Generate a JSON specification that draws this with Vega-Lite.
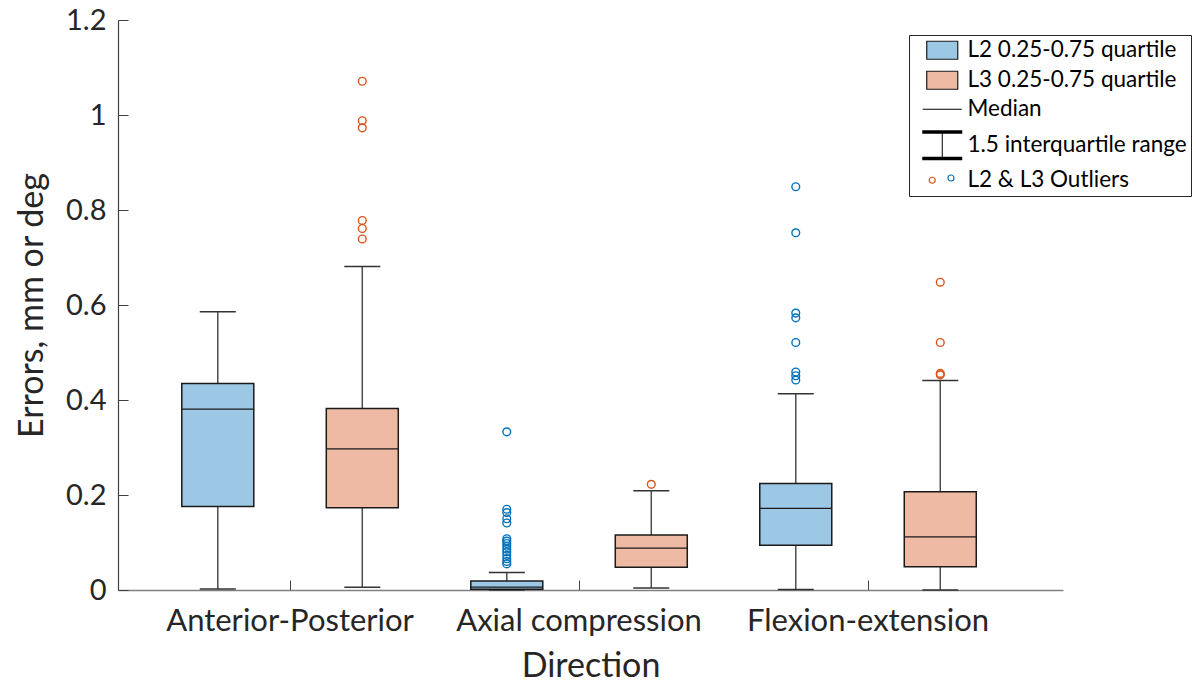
{
  "$schema": "https://vega.github.io/schema/vega-lite/v6.json",
  "width": 945,
  "height": 570,
  "autosize": {"type": "none"},
  "padding": {"left": 118, "top": 20, "right": 133, "bottom": 92},
  "background": "white",
  "config": {
    "view": {"stroke": null},
    "font": "Lato",
    "axis": {"labelFont": "Lato", "titleFont": "Lato", "labelColor": "#262626", "titleColor": "#262626", "titleFontWeight": "normal", "grid": false}
  },
  "datasets": {
    "boxes": [
      {"dir": "Anterior-Posterior", "lvl": "L2", "lo": 0.002, "q1": 0.176, "med": 0.381, "q3": 0.435, "hi": 0.586},
      {"dir": "Anterior-Posterior", "lvl": "L3", "lo": 0.006, "q1": 0.173, "med": 0.297, "q3": 0.382, "hi": 0.681},
      {"dir": "Axial compression", "lvl": "L2", "lo": 0.0, "q1": 0.0015, "med": 0.006, "q3": 0.019, "hi": 0.037},
      {"dir": "Axial compression", "lvl": "L3", "lo": 0.004, "q1": 0.048, "med": 0.088, "q3": 0.116, "hi": 0.209},
      {"dir": "Flexion-extension", "lvl": "L2", "lo": 0.001, "q1": 0.094, "med": 0.172, "q3": 0.224, "hi": 0.413},
      {"dir": "Flexion-extension", "lvl": "L3", "lo": 0.0, "q1": 0.049, "med": 0.112, "q3": 0.207, "hi": 0.441}
    ],
    "outliers": [
      {"dir": "Anterior-Posterior", "lvl": "L3", "v": 1.071},
      {"dir": "Anterior-Posterior", "lvl": "L3", "v": 0.988},
      {"dir": "Anterior-Posterior", "lvl": "L3", "v": 0.973},
      {"dir": "Anterior-Posterior", "lvl": "L3", "v": 0.778},
      {"dir": "Anterior-Posterior", "lvl": "L3", "v": 0.761},
      {"dir": "Anterior-Posterior", "lvl": "L3", "v": 0.739},
      {"dir": "Axial compression", "lvl": "L2", "v": 0.333},
      {"dir": "Axial compression", "lvl": "L2", "v": 0.170},
      {"dir": "Axial compression", "lvl": "L2", "v": 0.163},
      {"dir": "Axial compression", "lvl": "L2", "v": 0.150},
      {"dir": "Axial compression", "lvl": "L2", "v": 0.141},
      {"dir": "Axial compression", "lvl": "L2", "v": 0.108},
      {"dir": "Axial compression", "lvl": "L2", "v": 0.103},
      {"dir": "Axial compression", "lvl": "L2", "v": 0.098},
      {"dir": "Axial compression", "lvl": "L2", "v": 0.092},
      {"dir": "Axial compression", "lvl": "L2", "v": 0.086},
      {"dir": "Axial compression", "lvl": "L2", "v": 0.080},
      {"dir": "Axial compression", "lvl": "L2", "v": 0.073},
      {"dir": "Axial compression", "lvl": "L2", "v": 0.066},
      {"dir": "Axial compression", "lvl": "L2", "v": 0.060},
      {"dir": "Axial compression", "lvl": "L2", "v": 0.055},
      {"dir": "Axial compression", "lvl": "L3", "v": 0.2225},
      {"dir": "Flexion-extension", "lvl": "L2", "v": 0.849},
      {"dir": "Flexion-extension", "lvl": "L2", "v": 0.752},
      {"dir": "Flexion-extension", "lvl": "L2", "v": 0.583},
      {"dir": "Flexion-extension", "lvl": "L2", "v": 0.573},
      {"dir": "Flexion-extension", "lvl": "L2", "v": 0.521},
      {"dir": "Flexion-extension", "lvl": "L2", "v": 0.459},
      {"dir": "Flexion-extension", "lvl": "L2", "v": 0.451},
      {"dir": "Flexion-extension", "lvl": "L2", "v": 0.442},
      {"dir": "Flexion-extension", "lvl": "L3", "v": 0.648},
      {"dir": "Flexion-extension", "lvl": "L3", "v": 0.521},
      {"dir": "Flexion-extension", "lvl": "L3", "v": 0.456},
      {"dir": "Flexion-extension", "lvl": "L3", "v": 0.453}
    ],
    "legendA": [
      {"item": "L2 0.25-0.75 quartile", "v": null},
      {"item": "L3 0.25-0.75 quartile", "v": null},
      {"item": "Median", "v": null},
      {"item": "1.5 interquartile range", "v": null},
      {"item": "L2 & L3 Outliers", "v": null}
    ],
    "legendB": [
      {"item2": "o", "v": null}
    ]
  },
  "encoding": {
    "x": {
      "field": "dir", "type": "nominal",
      "scale": {"domain": ["Anterior-Posterior", "Axial compression", "Flexion-extension"], "paddingInner": 0, "paddingOuter": 0.135, "align": 0.353},
      "axis": {"title": "Direction", "labelAngle": 0, "labelLimit": 0, "tickSize": -10, "labelPadding": 26, "labelFontSize": 31, "titleFontSize": 34, "titlePadding": 13, "domainColor": "#808080", "domainWidth": 1.5, "tickColor": "#404040", "tickWidth": 1}
    },
    "xOffset": {"field": "lvl", "type": "nominal", "scale": {"domain": ["L2", "L3"], "paddingInner": 0, "paddingOuter": 0}}
  },
  "layer": [
    {
      "data": {"name": "boxes"},
      "mark": {"type": "rule", "color": "#4d4d4d", "strokeWidth": 1.5},
      "encoding": {
        "y": {"field": "lo", "type": "quantitative", "scale": {"domain": [0, 1.2], "nice": false, "zero": false},
          "axis": {"title": "Errors, mm or deg", "values": [0, 0.2, 0.4, 0.6, 0.8, 1, 1.2], "format": "~g", "tickSize": -10, "labelPadding": 22, "labelFontSize": 29, "titleFontSize": 34, "titlePadding": 16, "domainColor": "#404040", "domainWidth": 1.2, "tickColor": "#404040"}},
        "y2": {"field": "hi"}
      }
    },
    {
      "data": {"name": "boxes"},
      "mark": {"type": "tick", "color": "#333333", "size": 36, "thickness": 1.5, "opacity": 1},
      "encoding": {"y": {"field": "lo", "type": "quantitative"}}
    },
    {
      "data": {"name": "boxes"},
      "mark": {"type": "tick", "color": "#333333", "size": 36, "thickness": 1.5, "opacity": 1},
      "encoding": {"y": {"field": "hi", "type": "quantitative"}}
    },
    {
      "data": {"name": "boxes"},
      "mark": {"type": "bar", "width": 72, "stroke": "#1a1a1a", "strokeWidth": 1.5},
      "encoding": {
        "y": {"field": "q1", "type": "quantitative"},
        "y2": {"field": "q3"},
        "fill": {"field": "lvl", "type": "nominal", "scale": {"domain": ["L2", "L3"], "range": ["#9cc8e6", "#eebaa3"]}, "legend": null}
      }
    },
    {
      "data": {"name": "boxes"},
      "mark": {"type": "tick", "color": "#1a1a1a", "size": 72, "thickness": 1.3, "opacity": 1},
      "encoding": {"y": {"field": "med", "type": "quantitative"}}
    },
    {
      "data": {"name": "outliers"},
      "mark": {"type": "point", "shape": "circle", "filled": false, "size": 60, "strokeWidth": 1.4, "opacity": 1},
      "encoding": {
        "y": {"field": "v", "type": "quantitative"},
        "stroke": {"field": "lvl", "type": "nominal", "scale": {"domain": ["L2", "L3"], "range": ["#0072BD", "#D95319"]}, "legend": null}
      }
    },
    {
      "data": {"name": "legendA"},
      "mark": {"type": "point", "filled": true, "opacity": 1, "strokeWidth": 1.2},
      "encoding": {
        "y": {"field": "v", "type": "quantitative"},
        "shape": {"field": "item", "type": "nominal",
          "scale": {"domain": ["L2 0.25-0.75 quartile", "L3 0.25-0.75 quartile", "Median", "1.5 interquartile range", "L2 & L3 Outliers"],
            "range": ["M-1.55,-0.9H1.55V0.9H-1.55Z", "M-1.55,-0.9H1.55V0.9H-1.55Z", "M-1.95,-0.06H1.95V0.06H-1.95Z", "M-2.0,-1.5H2.0V-1.15H-2.0Z M-2.0,1.15H2.0V1.5H-2.0Z M-0.05,-1.15H0.05V1.15H-0.05Z", "M-1.3,0A0.3,0.3 0 1,0 -0.7,0A0.3,0.3 0 1,0 -1.3,0Z"]},
          "legend": {"orient": "none", "legendX": 791, "legendY": 15, "title": null, "strokeColor": "#262626", "fillColor": "white", "padding": 4, "symbolSize": 400, "symbolOffset": 18, "labelOffset": 14, "labelFont": "Lato", "labelFontSize": 22.5, "labelColor": "#000000", "rowPadding": 6, "symbolStrokeWidth": 1.2, "symbolOpacity": 1, "labelLimit": 400}},
        "fill": {"field": "item", "type": "nominal",
          "scale": {"domain": ["L2 0.25-0.75 quartile", "L3 0.25-0.75 quartile", "Median", "1.5 interquartile range", "L2 & L3 Outliers"],
            "range": ["#9cc8e6", "#eebaa3", "#000000", "#000000", "transparent"]}},
        "stroke": {"field": "item", "type": "nominal",
          "scale": {"domain": ["L2 0.25-0.75 quartile", "L3 0.25-0.75 quartile", "Median", "1.5 interquartile range", "L2 & L3 Outliers"],
            "range": ["#1a1a1a", "#1a1a1a", "transparent", "transparent", "#D95319"]}}
      }
    },
    {
      "data": {"name": "legendB"},
      "mark": {"type": "point", "filled": false, "opacity": 1, "strokeWidth": 1.2, "stroke": "#0072BD"},
      "encoding": {
        "y": {"field": "v", "type": "quantitative"},
        "shape": {"field": "item2", "type": "nominal",
          "scale": {"domain": ["o"], "range": ["M0.6,0A0.3,0.3 0 1,0 1.2,0A0.3,0.3 0 1,0 0.6,0Z"]},
          "legend": {"orient": "none", "legendX": 791, "legendY": 143, "title": null, "padding": 4, "symbolSize": 400, "symbolOffset": 18, "labelOffset": 14, "labelFontSize": 20, "labelExpr": "''", "symbolStrokeColor": "#0072BD", "symbolFillColor": "transparent", "symbolStrokeWidth": 1.2, "symbolOpacity": 1}}
      }
    }
  ],
  "resolve": {
    "scale": {"fill": "independent", "stroke": "independent", "shape": "independent"},
    "legend": {"fill": "independent", "stroke": "independent", "shape": "independent"}
  }
}
